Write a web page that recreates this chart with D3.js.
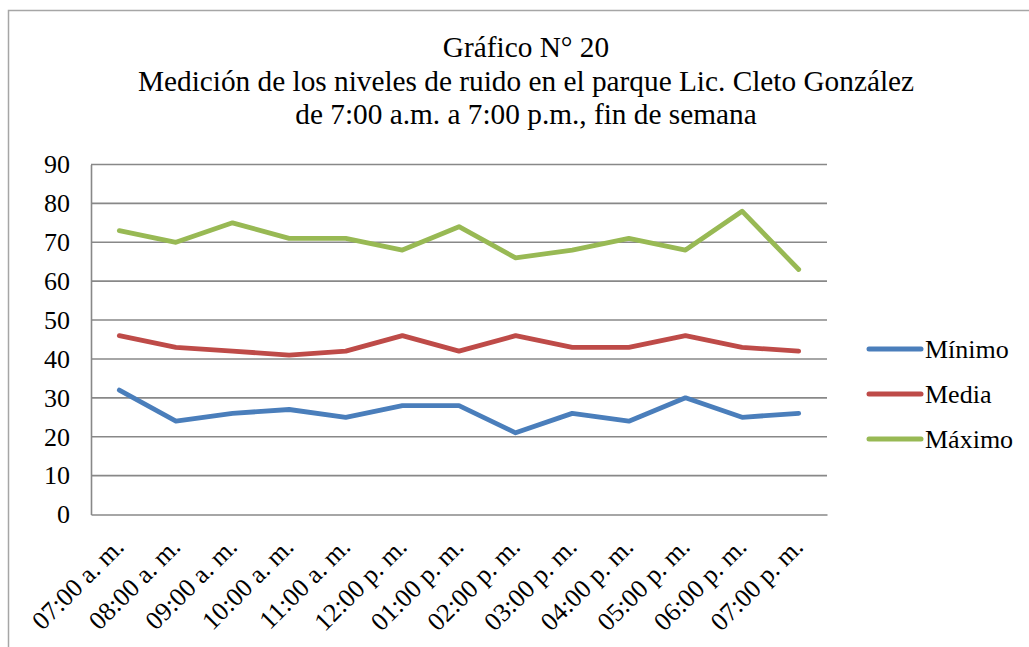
<!DOCTYPE html>
<html>
<head>
<meta charset="utf-8">
<script src="https://cdn.jsdelivr.net/npm/d3@7"></script>
<style>
  html, body { margin: 0; padding: 0; background: #fff; }
  svg, svg text {
    font-family: "Times New Roman", "Liberation Serif", Tinos, Times, "DejaVu Serif", serif !important;
  }
</style>
</head>
<body>
<svg id="chart" width="1029" height="647"></svg>
<script>
// Hourly noise readings (dB) at the park, weekend
const categories = ["07:00 a. m.", "08:00 a. m.", "09:00 a. m.", "10:00 a. m.", "11:00 a. m.",
  "12:00 p. m.", "01:00 p. m.", "02:00 p. m.", "03:00 p. m.", "04:00 p. m.",
  "05:00 p. m.", "06:00 p. m.", "07:00 p. m."];
const minimo = [32, 24, 26, 27, 25, 28, 28, 21, 26, 24, 30, 25, 26];
const media  = [46, 43, 42, 41, 42, 46, 42, 46, 43, 43, 46, 43, 42];
const maximo = [73, 70, 75, 71, 71, 68, 74, 66, 68, 71, 68, 78, 63];
const yTicks = [0, 10, 20, 30, 40, 50, 60, 70, 80, 90];
const titleLines = [
  "Gráfico N° 20",
  "Medición de los niveles de ruido en el parque Lic. Cleto González",
  "de 7:00 a.m. a 7:00 p.m., fin de semana"
];

const series = [
  { name: "Mínimo", values: minimo, color: "#4a7ebb" },
  { name: "Media",  values: media,  color: "#be4b48" },
  { name: "Máximo", values: maximo, color: "#98b954" }
];

const svg = d3.select("#chart");
const plot = { left: 91, right: 827, top: 164.5, bottom: 514.5 };

// Outer chart frame
svg.append("rect")
  .attr("x", 8.5).attr("y", 10.5)
  .attr("width", 1040).attr("height", 660)
  .attr("fill", "none").attr("stroke", "#a6a6a6").attr("stroke-width", 1.5);

// Title, three centred lines
const titleBaselines = [56.5, 91, 123.5];
const title = svg.append("text")
  .attr("text-anchor", "middle")
  .attr("font-size", 29.3)
  .attr("fill", "#000");
titleLines.forEach((t, i) => {
  title.append("tspan").attr("x", 526).attr("y", titleBaselines[i]).text(t);
});

const x = d3.scaleBand().domain(categories).range([plot.left, plot.right]);
const y = d3.scaleLinear().domain([0, 90]).range([plot.bottom, plot.top]);
const cx = c => x(c) + x.bandwidth() / 2;

// Horizontal gridlines
svg.append("g")
  .selectAll("line")
  .data(yTicks.filter(d => d > 0))
  .join("line")
  .attr("x1", plot.left).attr("x2", plot.right)
  .attr("y1", d => y(d)).attr("y2", d => y(d))
  .attr("stroke", "#888").attr("stroke-width", 1.6);

// Y axis
const yAxis = svg.append("g")
  .attr("transform", `translate(${plot.left},0)`)
  .call(d3.axisLeft(y).tickValues(yTicks).tickSize(0).tickPadding(21));
yAxis.attr("font-family", null);
yAxis.select(".domain").attr("stroke", "#888").attr("stroke-width", 1.6);
yAxis.selectAll("text")
  .attr("font-size", 26).attr("fill", "#000");

// X axis with slanted labels
const xAxis = svg.append("g")
  .attr("transform", `translate(0,${plot.bottom})`)
  .call(d3.axisBottom(x).tickSize(0).tickPadding(0));
xAxis.attr("font-family", null);
xAxis.select(".domain").attr("stroke", "#888").attr("stroke-width", 1.6);
xAxis.selectAll("text")
  .attr("font-size", 26).attr("fill", "#000")
  .attr("text-anchor", "end")
  .attr("dy", 0)
  .attr("transform", "translate(6,34) rotate(-45)");

// Series lines
const line = d3.line()
  .x((d, i) => cx(categories[i]))
  .y(d => y(d));

svg.append("g")
  .selectAll("path")
  .data(series)
  .join("path")
  .attr("d", s => line(s.values))
  .attr("fill", "none")
  .attr("stroke", s => s.color)
  .attr("stroke-width", 4.8)
  .attr("stroke-linejoin", "round")
  .attr("stroke-linecap", "round");

// Legend
const legend = svg.append("g");
const legendY = [349, 394, 439];
series.forEach((s, i) => {
  legend.append("line")
    .attr("x1", 869).attr("x2", 921)
    .attr("y1", legendY[i]).attr("y2", legendY[i])
    .attr("stroke", s.color).attr("stroke-width", 5)
    .attr("stroke-linecap", "round");
  legend.append("text")
    .attr("x", 925).attr("y", legendY[i] + 9)
    .attr("font-size", 26).attr("fill", "#000")
    .text(s.name);
});
</script>
</body>
</html>
